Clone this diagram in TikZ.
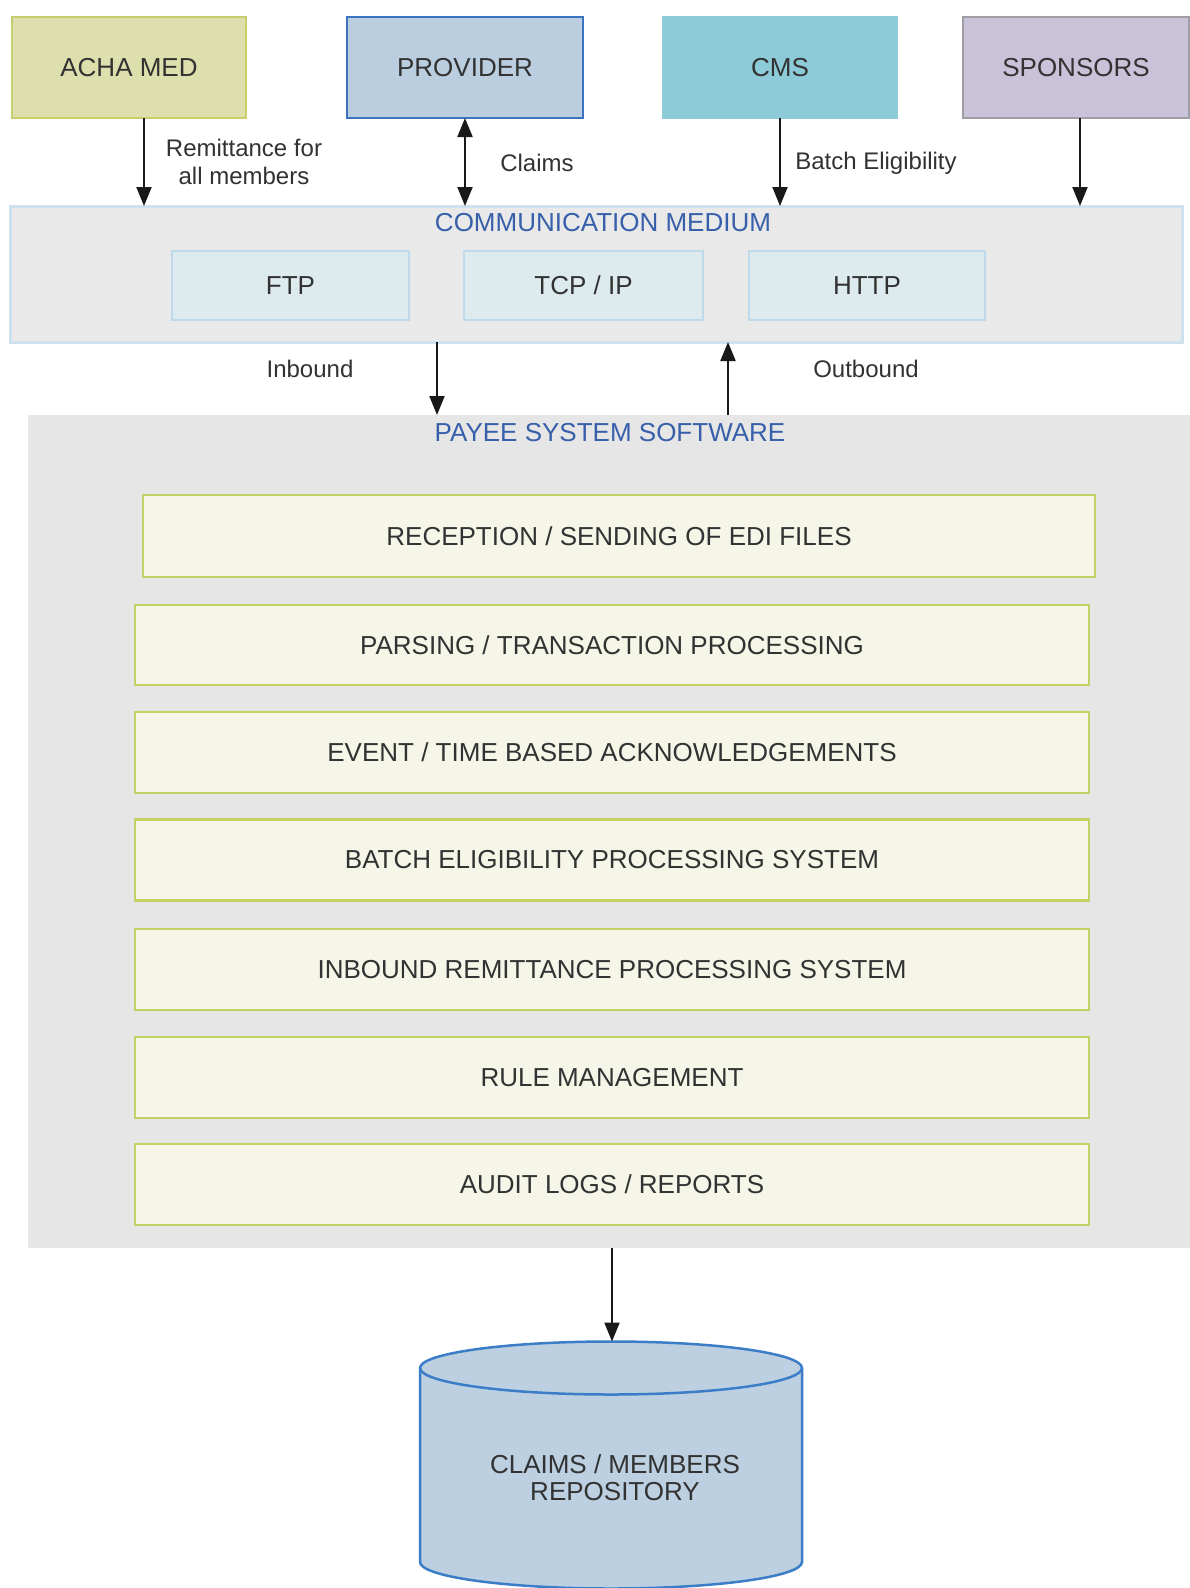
\documentclass[tikz,border=0pt]{standalone}
\usepackage{fontspec}
\setmainfont{Liberation Sans}
\usetikzlibrary{arrows.meta,calc}
\definecolor{achafill}{RGB}{221,223,172}
\definecolor{achaline}{RGB}{200,206,110}
\definecolor{provfill}{RGB}{187,206,224}
\definecolor{provline}{RGB}{60,115,190}
\definecolor{cmsfill}{RGB}{142,203,216}
\definecolor{sponfill}{RGB}{202,194,216}
\definecolor{sponline}{RGB}{160,158,165}
\definecolor{medfill}{RGB}{233,233,233}
\definecolor{medline}{RGB}{205,226,236}
\definecolor{protofill}{RGB}{222,235,238}
\definecolor{protoline}{RGB}{190,218,234}
\definecolor{payfill}{RGB}{230,230,230}
\definecolor{rowfill}{RGB}{245,245,232}
\definecolor{rowline}{RGB}{196,210,100}
\definecolor{cylfill}{RGB}{188,208,225}
\definecolor{cylline}{RGB}{60,125,200}
\definecolor{headtext}{RGB}{55,95,170}
\definecolor{bodytext}{RGB}{50,50,50}
\begin{document}
\begin{tikzpicture}[x=1pt,y=-1pt,
  txt/.style={font=\fontsize{26}{28}\selectfont, text=bodytext},
  headtxt/.style={font=\fontsize{26}{28}\selectfont, text=headtext},
  topbox/.style={draw, line width=2.5pt, inner sep=0pt, outer sep=0pt, minimum height=101pt, txt},
  protobox/.style={draw=protoline, fill=protofill, line width=2.5pt, inner sep=0pt, outer sep=0pt, minimum width=237pt, minimum height=69pt, txt},
  rowbox/.style={draw=rowline, fill=rowfill, line width=2.5pt, inner sep=0pt, outer sep=0pt, minimum width=954pt, minimum height=81pt, txt},
  arr/.style={-{Triangle[length=19pt,width=15pt]}, line width=2pt, black!90},
  darr/.style={{Triangle[length=19pt,width=15pt]}-{Triangle[length=19pt,width=15pt]}, line width=2pt, black!90}
]
\useasboundingbox (0,0) rectangle (1190,1588);
\fill[white] (0,0) rectangle (1190,1588);

% top boxes
\node[topbox, draw=achaline, fill=achafill, minimum width=234pt] (acha) at (129,67.5) {ACHA MED};
\node[topbox, draw=provline, fill=provfill, minimum width=236pt] (prov) at (465,67.5) {PROVIDER};
\node[topbox, draw=cmsfill, fill=cmsfill, minimum width=234pt] (cms) at (780,67.5) {CMS};
\node[topbox, draw=sponline, fill=sponfill, minimum width=226pt] (spon) at (1076,67.5) {SPONSORS};

% communication medium
\node[draw=medline, fill=medfill, line width=3pt, inner sep=0pt, outer sep=0pt, minimum width=1172pt, minimum height=136pt] (comm) at (596,274) {};
\node[headtxt] (commtitle) at (603,223) {COMMUNICATION MEDIUM};
\node[protobox] (ftp) at (290.5,285.5) {FTP};
\node[protobox, minimum width=239pt] (tcp) at (583.5,285.5) {TCP / IP};
\node[protobox, minimum width=236pt] (http) at (867,285.5) {HTTP};

% payee system
\node[fill=payfill, inner sep=0pt, outer sep=0pt, minimum width=1162pt, minimum height=833pt] (payee) at (609,831.5) {};
\node[headtxt] (payeetitle) at (610,433) {PAYEE SYSTEM SOFTWARE};
\node[rowbox, minimum width=952pt, minimum height=82pt] (r1) at (619,536) {RECEPTION / SENDING OF EDI FILES};
\node[rowbox, minimum height=80pt] (r2) at (612,645) {PARSING / TRANSACTION PROCESSING};
\node[rowbox] (r3) at (612,752.5) {EVENT / TIME BASED ACKNOWLEDGEMENTS};
\node[rowbox] (r4) at (612,860) {BATCH ELIGIBILITY PROCESSING SYSTEM};
\node[rowbox] (r5) at (612,969.5) {INBOUND REMITTANCE PROCESSING SYSTEM};
\node[rowbox] (r6) at (612,1077.5) {RULE MANAGEMENT};
\node[rowbox] (r7) at (612,1184.5) {AUDIT LOGS / REPORTS};

% repository cylinder
\filldraw[fill=cylfill, draw=cylline, line width=2.5pt]
  (420,1368) -- (420,1562) arc[start angle=180, end angle=360, x radius=191pt, y radius=26.5pt]
  -- (802,1368) arc[start angle=0, end angle=180, x radius=191pt, y radius=26.5pt] -- cycle;
\draw[draw=cylline, line width=2.5pt] (420,1368) arc[start angle=180, end angle=360, x radius=191pt, y radius=26.5pt];
\coordinate (cyltop) at (612,1341.5);
\node[txt, align=center, font=\fontsize{26}{27}\selectfont] (repo) at (615,1478) {CLAIMS / MEMBERS\\REPOSITORY};

% x positions for connectors
\coordinate (xacha) at (144,0);
\coordinate (xspon) at (1080,0);
\coordinate (xin) at (437,0);
\coordinate (xout) at (728,0);

% connectors
\draw[arr] (acha.south -| xacha) -- (comm.north -| xacha);
\draw[darr] (prov.south) -- (comm.north -| prov.south);
\draw[arr] (cms.south) -- (comm.north -| cms.south);
\draw[arr] (spon.south -| xspon) -- (comm.north -| xspon);
\draw[arr] (comm.south -| xin) -- (payee.north -| xin);
\draw[arr] (payee.north -| xout) -- (comm.south -| xout);
\draw[arr] (payee.south -| cyltop) -- (cyltop);

% labels
\node[txt, align=center, font=\fontsize{24}{28}\selectfont] (lremit) at (244,162) {Remittance for\\all members};
\node[txt, font=\fontsize{24}{28}\selectfont] (lclaims) at (537,163) {Claims};
\node[txt, font=\fontsize{24}{28}\selectfont] (lbatch) at (876,163) {Batch Eligibility};
\node[txt, font=\fontsize{24}{28}\selectfont] (lin) at (310,369) {Inbound};
\node[txt, font=\fontsize{24}{28}\selectfont] (lout) at (866,369) {Outbound};
\end{tikzpicture}
\end{document}
